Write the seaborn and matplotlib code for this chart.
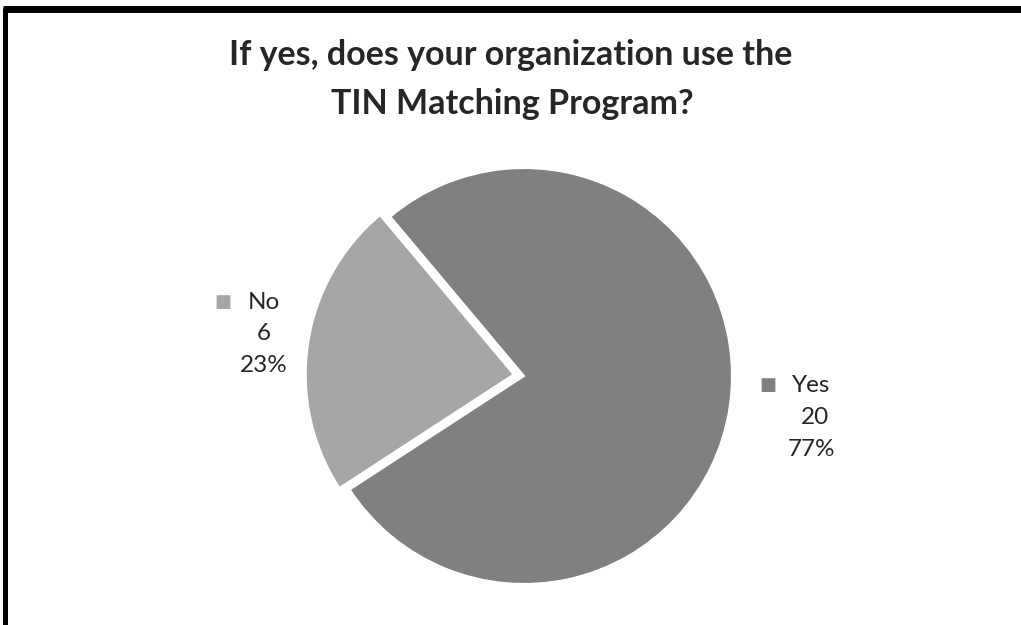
import matplotlib
matplotlib.use("Agg")
import matplotlib.pyplot as plt
import seaborn as sns
from matplotlib.lines import Line2D

categories = ["Yes", "No"]
counts = [20, 6]
percents = ["77%", "23%"]
title_lines = ["If yes, does your organization use the", "TIN Matching Program?"]
colors = ["#808080", "#a6a6a6"]

sns.set_theme(style="white")
plt.rcParams['font.family'] = ['Lato', 'DejaVu Sans']

W, H = 1021, 625
fig = plt.figure(figsize=(W / 100, H / 100), dpi=100)
fig.patch.set_facecolor("white")

# border (left and top)
fig.add_artist(Line2D([5 / W, 5 / W], [0, 1 - 8 / H], transform=fig.transFigure, color="black", lw=3.6, solid_capstyle="butt"))
fig.add_artist(Line2D([3 / W, 1], [1 - 8.5 / H, 1 - 8.5 / H], transform=fig.transFigure, color="black", lw=5, solid_capstyle="butt"))

# title
fig.text(511 / W, 1 - 55 / H, title_lines[0], ha="center", va="center", fontsize=24.5, fontweight="bold")
fig.text(512 / W, 1 - 104 / H, title_lines[1], ha="center", va="center", fontsize=24.5, fontweight="bold")

cx, cy, r = 524, 376, 208
ax = fig.add_axes([(cx - r) / W, (H - cy - r) / H, 2 * r / W, 2 * r / H])
ax.pie(counts, colors=colors, startangle=130, counterclock=False,
       explode=[0, 0.05], radius=1,
       wedgeprops=dict(edgecolor="white", linewidth=1.5))
ax.set_xlim(-1, 1)
ax.set_ylim(-1, 1)
ax.set_aspect("equal")
ax.axis("off")

def px(x, y):
    return x / W, 1 - y / H

fs = 17.5
labels_pos = {"Yes": (811, 385, 768), "No": (264, 302, 223)}
for cat, n, pct, col in zip(categories, counts, percents, colors):
    xc, y0, sqx = labels_pos[cat]
    fig.text(*px(xc, y0), cat, ha="center", va="center", fontsize=fs)
    fig.text(*px(xc + (4 if cat == "Yes" else 0), y0 + 32), str(n), ha="center", va="center", fontsize=fs)
    fig.text(*px(xc, y0 + 64), pct, ha="center", va="center", fontsize=fs)
    fig.text(*px(sqx, y0), "■", ha="center", va="center", fontsize=13, color=col, family="DejaVu Sans")

fig.savefig("out.png", dpi=100, facecolor="white")
